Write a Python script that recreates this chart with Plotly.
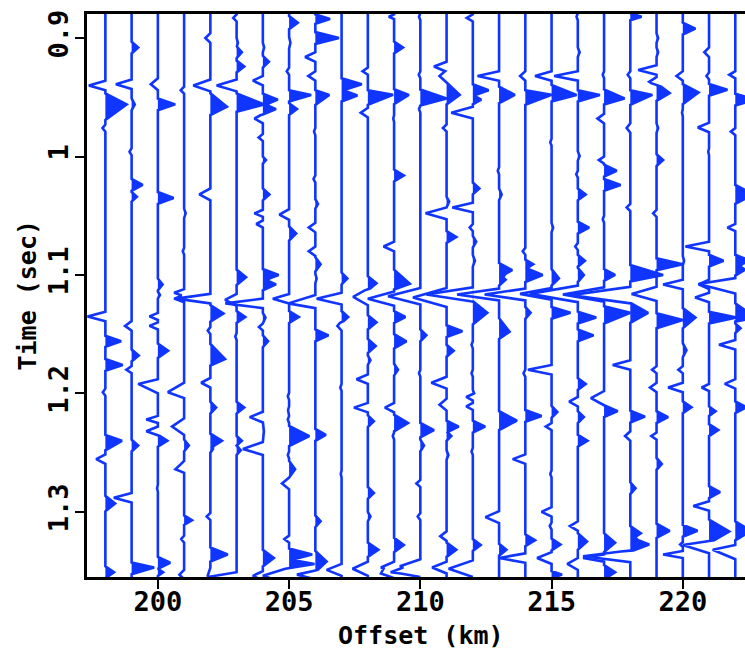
import numpy as np
import plotly.graph_objects as go

# Each event: (time s, amplitude km, half-width s[, half-width after s])
trace_198 = [(.940,-.63,.004),(.956,.81,.0093,.0132),(.976,-.11,.003),(1.135,-.68,.004),(1.156,.6,.0047),(1.176,.66,.005),(1.199,-.1,.003),(1.240,.63,.005,.008),(1.2555,-.35,.004),(1.293,.37,.0065),(1.351,.33,.005)]
trace_199 = [(.908,.25,.005),(.939,-.6,.004),(.956,.12,.005),(.996,-.08,.003),(1.024,.42,.005),(1.034,.2,.004),(1.143,-.25,.004),(1.168,.27,.005),(1.180,-.2,.003),(1.244,.25,.005),(1.288,-.68,.004),(1.347,.86,.0042,.0056)]
trace_200 = [(.939,-.27,.005),(.956,.66,.005),(1.035,.6,.005),(1.108,.18,.005),(1.117,.08,.003),(1.135,-.32,.003),(1.143,-.32,.003),(1.164,.39,.006),(1.192,-.75,.004,.008),(1.222,-.44,.003),(1.232,-.44,.004),(1.240,.36,.005),(1.280,-.03,.003),(1.343,.47,.005),(1.351,.2,.003)]
trace_201 = [(.944,-.13,.003),(1.048,.06,.004),(1.080,-.05,.003),(1.115,-.38,.003),(1.120,-.38,.003),(1.199,-.62,.008,.005),(1.228,-.46,.007),(1.244,.18,.005),(1.264,-.33,.007,.003),(1.307,.3,.004),(1.323,-.11,.003),(1.353,-.18,.004)]
trace_202 = [(.900,-.19,.004),(.940,-.65,.005),(.958,.63,.0113,.007),(1.032,-.42,.005),(1.120,-1.3,.004),(1.1325,.5,.007),(1.147,-.1,.003),(1.171,.56,.0127,.0056),(1.191,-.35,.004),(1.212,.22,.005),(1.240,.44,.006),(1.247,.1,.003),(1.304,-.14,.003),(1.336,.66,.006),(1.354,-.1,.007)]
trace_203 = [(.883,-.13,.003),(.904,.05,.004),(.912,.2,.005),(.924,.29,.005),(.940,-.76,.005),(.956,1.05,.0093,.0062),(1.102,.36,.0065),(1.121,-.44,.005),(1.1355,.33,.005),(1.152,-.05,.003),(1.212,.29,.005),(1.240,.2,.004),(1.248,.16,.004),(1.355,-1.1,.004)]
trace_204 = [(.908,.05,.004),(.920,.23,.005),(.936,-.38,.004),(.952,.57,.005),(.960,.5,.005),(.968,-.32,.004),(.984,-.16,.003),(1.003,.12,.003),(1.032,.25,.005),(1.048,-.32,.003),(1.057,-.25,.003),(1.100,.6,.005),(1.108,.5,.005),(1.124,-1.43,.004),(1.136,.1,.004),(1.144,-.15,.003),(1.156,.2,.005),(1.220,-.5,.0045),(1.232,.04,.008),(1.247,-.76,.006,.005),(1.339,.42,.007),(1.354,-.38,.004)]
trace_205 = [(.887,.33,.0055),(.904,.05,.005),(.928,-.09,.003),(.948,.84,.004,.0056),(.960,.3,.005),(1.049,-.37,.0045),(1.065,.27,.006),(1.120,-.62,.004),(1.1355,.37,.005),(1.2025,-.05,.003),(1.214,-.04,.003),(1.222,-.05,.003),(1.236,.77,.0085),(1.252,-.05,.003),(1.264,.23,.007),(1.276,-.27,.005),(1.323,-.18,.003),(1.336,.88,.005),(1.344,.97,.004),(1.354,-1.0,.007)]
trace_206 = [(.884,.56,.004),(.900,.9,.005),(.916,-.39,.004),(.932,-.27,.004),(.948,.53,.004,.0084),(.979,-.05,.003),(1.019,-.07,.003),(1.040,.1,.004),(1.060,-.25,.004),(1.080,-.25,.004),(1.091,.2,.006),(1.103,.05,.004),(1.124,-1.03,.007,.004),(1.151,.5,.005),(1.235,.4,.005),(1.308,.2,.005),(1.342,.43,.009),(1.353,-.7,.004)]
trace_207 = [(.939,.77,.005),(.9485,.6,.005),(1.103,.22,.005),(1.120,-.95,.005),(1.1355,.25,.005),(1.143,-.16,.004),(1.195,-.05,.003),(1.268,-.03,.003),(1.349,-.57,.005)]
trace_208 = [(.928,-.2,.003),(.948,.96,.004,.0084),(.963,-.27,.004),(1.107,.33,.006),(1.1185,-.56,.007),(1.140,.33,.006),(1.160,.3,.006),(1.172,.1,.004),(1.188,-.43,.004),(1.212,-.53,.004),(1.2235,.23,.005),(1.284,.23,.005),(1.304,.1,.004),(1.332,.4,.006),(1.348,-.58,.006)]
trace_209 = [(.882,-.2,.002),(.908,.34,.005),(.948,.56,.0048,.0079),(.968,-.03,.003),(1.016,.37,.005),(1.076,-.4,.004),(1.1075,.6,.012,.0048),(1.120,-1.0,.006),(1.1355,.43,.005),(1.156,.47,.006),(1.180,.15,.005),(1.212,-.35,.004),(1.225,.53,.007),(1.236,-.05,.003),(1.328,.37,.006),(1.347,-.5,.005),(1.352,-.5,.004)]
trace_210 = [(.882,-.05,.003),(.931,-.06,.003),(.951,1.0,.0075,.006),(.960,-.05,.003),(1.118,-1.23,.007),(1.151,.23,.005),(1.183,-.05,.003),(1.231,.52,.006),(1.244,.14,.005),(1.276,-.15,.003),(1.304,-.1,.003),(1.346,-.78,.006),(1.351,-1.0,.004)]
trace_211 = [(.924,-.48,.004),(.932,-.27,.005),(.948,.5,.0105,.008),(.976,-.14,.003),(1.038,.1,.004),(1.048,-.8,.005),(1.068,.37,.005),(1.119,-1.28,.008),(1.1475,.6,.005),(1.164,.27,.005),(1.191,-.58,.005),(1.2095,-.27,.005),(1.228,.46,.005),(1.236,.18,.004),(1.252,.07,.004),(1.3205,-.24,.004),(1.332,.37,.006),(1.347,-.55,.005)]
trace_212 = [(.883,-.23,.003),(.944,.6,.005),(.952,.32,.004),(.963,-.82,.005),(1.027,.25,.005),(1.043,-.78,.004),(1.060,-.12,.003),(1.072,.13,.005),(1.088,.08,.005),(1.1165,-1.77,.006),(1.132,.55,.0098),(1.159,-.05,.003),(1.183,-.05,.003),(1.200,.05,.003),(1.203,-.25,.003),(1.211,-.25,.003),(1.228,.47,.005),(1.249,-.05,.003),(1.328,.3,.005),(1.348,-.92,.007)]
trace_213 = [(.932,-.82,.004),(.948,.6,.007),(1.012,-.05,.003),(1.032,.1,.005),(1.096,.5,.006),(1.104,.25,.005),(1.1165,-1.6,.005),(1.148,.4,.0115,.006),(1.223,.68,.008),(1.3045,-.52,.005),(1.332,.28,.005)]
trace_214 = [(.932,-.2,.004),(.948,1.0,.004,.0084),(1.080,-.1,.003),(1.091,.3,.004),(1.100,.66,.006),(1.1165,-1.55,.005),(1.132,.2,.005),(1.183,-.07,.003),(1.219,.62,.005),(1.2555,-.48,.004),(1.324,.37,.005),(1.339,-1.0,.004)]
trace_215 = [(.932,-.63,.004),(.948,.95,.0084,.0056),(.988,-.05,.003),(1.060,.06,.004),(1.103,.28,.008,.006),(1.116,-1.2,.005),(1.132,.72,.005),(1.180,-.9,.004),(1.2156,.22,.005),(1.228,-.22,.003),(1.268,-.05,.003),(1.300,-.38,.004),(1.312,-.07,.003),(1.3275,.34,.005),(1.339,-.55,.005),(1.353,.4,.003)]
trace_216 = [(.882,-.05,.003),(.912,.07,.004),(.932,-.9,.004),(.948,.84,.004,.0056),(.9995,.07,.004),(1.015,-.06,.003),(1.032,.3,.005),(1.060,.43,.005),(1.076,-.1,.003),(1.088,.27,.005),(1.100,.23,.006),(1.116,-1.83,.007),(1.136,.7,.005),(1.151,.6,.005),(1.192,.3,.005),(1.207,-.33,.004),(1.220,.23,.005),(1.240,.37,.005),(1.312,-.3,.004),(1.325,.35,.007),(1.344,-.4,.005)]
trace_217 = [(.931,-.05,.003),(.951,.78,.0076,.005),(.968,-.25,.004),(1.003,-.2,.003),(1.012,.48,.005),(1.024,.63,.005),(1.053,-.05,.003),(1.100,.42,.005),(1.1165,-1.57,.006),(1.132,1.0,.0056,.009),(1.204,-.5,.006),(1.215,.52,.005),(1.326,.42,.008),(1.339,-.8,.003),(1.351,.42,.006)]
trace_218 = [(.882,.43,.003),(.931,-.1,.003),(.948,.84,.004,.0084),(.976,-.14,.004),(1.043,-.14,.003),(1.100,1.25,.0084,.0056),(1.117,-2.28,.007),(1.132,.68,.0084),(1.176,-.67,.004),(1.2196,.56,.005),(1.236,-.2,.004),(1.280,.2,.005),(1.318,.4,.006),(1.3275,.72,.006),(1.3375,-1.8,.005)]
trace_219 = [(.900,.06,.004),(.912,.06,.004),(.927,-.7,.004),(.937,-.28,.004),(.9465,.5,.0084,.0065),(.976,.06,.004),(1.003,.25,.005),(1.048,-.13,.003),(1.091,1.0,.005),(1.116,-.95,.006),(1.138,1.0,.0056,.007),(1.180,-.17,.003),(1.195,-.25,.004),(1.220,.44,.005),(1.236,-.2,.003),(1.2595,.2,.005),(1.316,.5,.006)]
trace_220 = [(.892,.48,.005),(.932,-.24,.004),(.946,.6,.007,.0098),(.963,-.03,.003),(1.088,.05,.004),(1.108,-.75,.004),(1.136,.48,.008,.009),(1.1635,.14,.006),(1.180,-.17,.003),(1.195,-.56,.004),(1.2117,.33,.005),(1.316,.56,.005),(1.3275,-.1,.002),(1.336,-.75,.003)]
trace_221 = [(.912,-.18,.004),(.932,-.1,.003),(.9437,.7,.005),(.9755,-.43,.004),(.996,-.03,.003),(1.076,-.9,.004),(1.088,.55,.005),(1.108,-.4,.004),(1.119,-.53,.004),(1.136,1.05,.005),(1.195,-.28,.003),(1.215,.25,.004),(1.231,.35,.005),(1.2834,.42,.005),(1.295,-.6,.004),(1.3165,.77,.010),(1.328,-1.0,.004,.007)]
trace_222 = [(.931,-.23,.003),(.952,.75,.005),(.979,-.17,.003),(1.032,.7,.008),(1.060,-.3,.003),(1.088,.56,.005),(1.0955,.37,.005),(1.1077,-1.4,.005,.008),(1.136,.8,.012,.0034),(1.145,.2,.004),(1.159,-.62,.004),(1.192,-.4,.004),(1.2117,.43,.005),(1.316,.6,.008),(1.332,-.86,.004,.008)]

offsets = list(range(198, 223))
traces = [trace_198, trace_199, trace_200, trace_201, trace_202, trace_203, trace_204,
          trace_205, trace_206, trace_207, trace_208, trace_209, trace_210, trace_211,
          trace_212, trace_213, trace_214, trace_215, trace_216, trace_217, trace_218,
          trace_219, trace_220, trace_221, trace_222]

x_ticks = [200, 205, 210, 215, 220]
x_labels = ["200", "205", "210", "215", "220"]
y_ticks = [0.9, 1.0, 1.1, 1.2, 1.3]
y_labels = ["0.9", "1", "1.1", "1.2", "1.3"]
x_range = [197.3, 222.37]
y_range = [1.355, 0.8797]
BLUE = "#0f35ff"


def expand(events):
    """Piecewise-linear wiggle with the events as vertices, including zero crossings."""
    t = [y_range[1], y_range[0]]
    shapes = []
    for ev in events:
        tp, a, wu = ev[:3]
        wd = ev[3] if len(ev) > 3 else wu
        shapes.append(([tp - wu, tp, tp + wd], [0, a, 0]))
        t += shapes[-1][0]
    t = np.unique(t)
    amp = np.zeros_like(t)
    for xp, fp in shapes:
        amp += np.interp(t, xp, fp)
    tt, aa = [t[0]], [amp[0]]
    for i in range(1, len(t)):
        if amp[i - 1] * amp[i] < 0:
            tt.append(t[i - 1] + (t[i] - t[i - 1]) * amp[i - 1] / (amp[i - 1] - amp[i]))
            aa.append(0.0)
        tt.append(t[i])
        aa.append(amp[i])
    return np.array(tt), np.array(aa)


fig = go.Figure()
for off, events in zip(offsets, traces):
    tt, aa = expand(events)
    fig.add_trace(go.Scatter(
        x=np.r_[off + np.clip(aa, 0, None), off, off], y=np.r_[tt, tt[-1], tt[0]],
        mode="lines", line=dict(width=0, color=BLUE), fill="toself", fillcolor=BLUE,
        hoverinfo="skip", showlegend=False))
for off, events in zip(offsets, traces):
    tt, aa = expand(events)
    fig.add_trace(go.Scatter(
        x=off + aa, y=tt, mode="lines", line=dict(width=2.6, color=BLUE),
        name=str(off), showlegend=False))

font_tick = dict(family="DejaVu Sans Mono", size=27, color="black", weight="bold")
font_title = dict(family="DejaVu Sans Mono", size=25, color="black", weight="bold")
fig.update_layout(
    width=745, height=651, margin=dict(l=87, r=0, t=14, b=73.5),
    paper_bgcolor="white", plot_bgcolor="white",
    xaxis=dict(range=x_range, tickmode="array", tickvals=x_ticks, ticktext=x_labels,
               ticks="outside", ticklen=9, tickwidth=2, tickcolor="black", showgrid=False,
               zeroline=False, showline=True, linewidth=2.5, linecolor="black", mirror=True,
               tickfont=font_tick, ticklabelstandoff=-10),
    yaxis=dict(range=y_range, tickmode="array", tickvals=y_ticks, ticktext=y_labels,
               ticks="outside", ticklen=9, tickwidth=2, tickcolor="black", showgrid=False,
               zeroline=False, showline=True, linewidth=2.5, linecolor="black",
               tickangle=-90, tickfont=font_tick, ticklabelstandoff=-4),
    annotations=[
        dict(text="Time (sec)", xref="paper", yref="paper", x=0, y=0.5, xanchor="center",
             yanchor="middle", xshift=-60, textangle=-90, showarrow=False, font=font_title),
        dict(text="Offset (km)", xref="paper", yref="paper", x=0.5, y=0, xanchor="center",
             yanchor="middle", xshift=5, yshift=-58.5, showarrow=False, font=font_title),
    ],
)
fig.write_html("out.html", config={"displayModeBar": False},
               post_script="document.body.style.margin='0';document.body.style.overflow='hidden';")
